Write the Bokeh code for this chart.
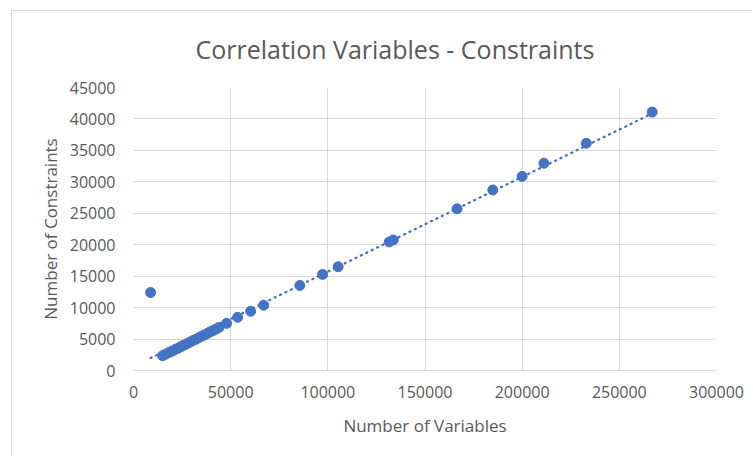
import numpy as np
from bokeh.plotting import figure
from bokeh.models import FixedTicker, NumeralTickFormatter, Range1d
from bokeh.embed import file_html
from bokeh.resources import INLINE

# Number of variables (x) and number of constraints (y)
variables = [8800, 15000, 16500, 18500, 20000, 21500, 23000, 24500, 26000, 27500,
             29000, 30500, 32000, 33500, 35000, 36500, 38000, 39500, 41000, 42500,
             44000, 47900, 53600, 60300, 67000, 85600, 97300, 105300, 131600,
             133700, 166500, 184900, 200000, 211200, 233000, 266900]
constraints = [12400, 2350, 2600, 2900, 3100, 3350, 3550, 3800, 4050, 4250,
               4500, 4750, 4950, 5200, 5450, 5650, 5900, 6150, 6350, 6600,
               6850, 7500, 8460, 9420, 10380, 13520, 15280, 16500, 20440,
               20760, 25710, 28700, 30870, 32950, 36140, 41090]

x_ticks = [0, 50000, 100000, 150000, 200000, 250000, 300000]
y_ticks = [0, 5000, 10000, 15000, 20000, 25000, 30000, 35000, 40000, 45000]
title_text = "Correlation Variables - Constraints"

FONT = "Open Sans"
TXT = "#595959"
GRID = "#d9d9d9"
BLUE = "#4472C4"

p = figure(width=741, height=446, output_backend="svg", toolbar_location=None,
           x_range=Range1d(0, 300000), y_range=Range1d(0, 45000),
           min_border_left=121, min_border_right=37, min_border_top=76,
           min_border_bottom=87, title=title_text)
p.margin = (10, 0, 0, 11)
p.styles = {"border-left": f"1px solid {GRID}", "border-top": f"1px solid {GRID}"}
p.outline_line_color = None

p.title.align = "left"
p.title.vertical_align = "top"
p.title.offset = 62
p.title.standoff = 40
p.title.text_font = FONT
p.title.text_font_size = "25px"
p.title.text_font_style = "normal"
p.title.text_color = TXT

for ax in (p.xaxis[0], p.yaxis[0]):
    ax.major_tick_line_color = None
    ax.minor_tick_line_color = None
    ax.major_tick_out = 0
    ax.major_tick_in = 0
    ax.minor_tick_out = 0
    ax.minor_tick_in = 0
    ax.major_label_text_font = FONT
    ax.major_label_text_font_size = "16px"
    ax.major_label_text_color = TXT
    ax.axis_label_text_font = FONT
    ax.axis_label_text_font_size = "17px"
    ax.axis_label_text_font_style = "normal"
    ax.axis_label_text_color = TXT
    ax.formatter = NumeralTickFormatter(format="0")

p.xaxis.ticker = FixedTicker(ticks=x_ticks)
p.yaxis.ticker = FixedTicker(ticks=y_ticks)
p.xaxis.axis_line_color = GRID
p.yaxis.axis_line_color = None
p.xaxis.axis_label = "Number of Variables"
p.yaxis.axis_label = "Number of Constraints"
p.xaxis.major_label_standoff = 15
p.yaxis.major_label_standoff = 18
p.xaxis.axis_label_standoff = 13
p.yaxis.axis_label_standoff = 5

p.xgrid.grid_line_color = GRID
p.ygrid.grid_line_color = GRID
p.xgrid.ticker = FixedTicker(ticks=x_ticks)
p.ygrid.ticker = FixedTicker(ticks=y_ticks)

# linear trendline from the data
xa = np.array(variables, dtype=float)
ya = np.array(constraints, dtype=float)
m, b = np.polyfit(xa, ya, 1)
tx = [xa.min(), xa.max()]
ty = [m * tx[0] + b, m * tx[1] + b]
p.line(tx, ty, line_color=BLUE, line_width=2.3, line_dash="1 5", line_cap="round")

p.scatter(variables, constraints, size=10, fill_color=BLUE, line_color=BLUE)

open("out.html", "w").write(file_html(p, INLINE))
